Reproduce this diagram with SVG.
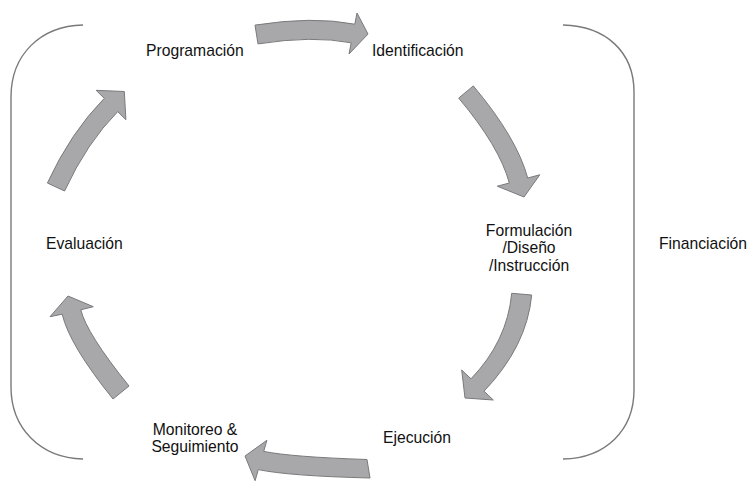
<svg xmlns="http://www.w3.org/2000/svg" width="747" height="482" viewBox="0 0 747 482">
<style>
.lbl{font-family:"Liberation Sans",Arial,sans-serif;font-size:15.7px;fill:#111111}
.arr{fill:#a8a8aa;stroke:#7a7a7c;stroke-width:1;stroke-linejoin:round}
.brk{fill:none;stroke:#7a7a7a;stroke-width:1.4}
</style>
<rect width="747" height="482" fill="#ffffff"/>
<g id="brackets">
<path class="brk" d="M83,25 C40,26 11,55 11,97 L11,387 C11,428 40,458 83,459"/>
<path class="brk" d="M563,25 C606,26 634,52 634,92 L634,390 C634,430 606,458 563,459"/>
</g>
<g id="connectors">
<path class="arr" d="M255,25.1 Q312.7,16 354.8,24.2 L357,13 L368,34 L349,54 L351.2,42.8 Q312.6,35.3 258,43.9 Z"/>
<path class="arr" d="M473.3,85.9 Q516.9,137.8 527.7,178 L539.8,174.8 L524,197 L497.3,186.2 L509.3,183 Q499.6,146.8 458.7,98.1 Z"/>
<path class="arr" d="M531.7,295 Q526.9,346.3 484,391.2 L493.3,400 L465,398 L461.7,370 L471,378.8 Q507.2,341.3 511.7,293.3 Z"/>
<path class="arr" d="M367,459.5 Q291.5,457 263.7,451.4 L266.9,440.3 L245,456 L255.1,480.7 L258.3,469.6 Q288.8,476 370,478 Z"/>
<path class="arr" d="M129,386 Q86.6,333.5 80.8,309.8 L93.3,306.7 L68,296 L50,316.7 L62.2,314.2 Q69.3,344.9 113,399 Z"/>
<path class="arr" d="M47.4,183 Q70.8,132.3 104.3,98.35 L96.1,90.3 L124.3,91.5 L125.9,119.7 L117.7,111.65 Q86.7,143 64.6,191 Z"/>
</g>
<g id="node-programacion"><text class="lbl" x="146" y="56">Programación</text></g>
<g id="node-identificacion"><text class="lbl" x="372" y="56">Identificación</text></g>
<g id="node-formulacion"><text class="lbl" x="529" y="235.5" text-anchor="middle">Formulación</text><text class="lbl" x="529" y="253.2" text-anchor="middle">/Diseño</text><text class="lbl" x="529" y="271" text-anchor="middle">/Instrucción</text></g>
<g id="node-ejecucion"><text class="lbl" x="383" y="443">Ejecución</text></g>
<g id="node-monitoreo"><text class="lbl" x="195" y="434.5" text-anchor="middle">Monitoreo &amp;</text><text class="lbl" x="195" y="452" text-anchor="middle">Seguimiento</text></g>
<g id="node-evaluacion"><text class="lbl" x="46" y="248.5">Evaluación</text></g>
<g id="node-financiacion"><text class="lbl" x="659" y="248.5">Financiación</text></g>
</svg>
